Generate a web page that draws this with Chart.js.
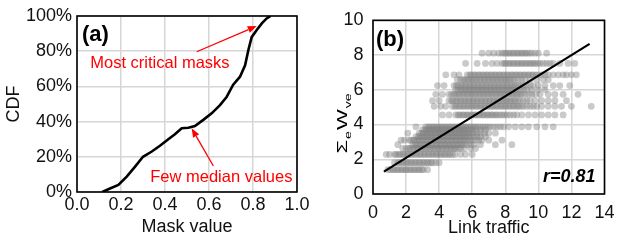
<!DOCTYPE html>
<html>
<head>
<meta charset="utf-8">
<script src="https://cdn.jsdelivr.net/npm/chart.js@4.4.1/dist/chart.umd.min.js"></script>
<style>
    body { margin: 0; background: #fff; }
    canvas { display: block; }
    #wrapA { position: absolute; left: 0; top: 0; }
    #wrapB { position: absolute; left: 312px; top: 0; }
</style>
</head>
<body>
<div id="wrapA"><canvas id="chartA" width="312" height="240"></canvas></div>
<div id="wrapB"><canvas id="chartB" width="311" height="240"></canvas></div>
<script>
// (a) CDF de mask value
var cdfX = [0.115, 0.15, 0.188, 0.226, 0.264, 0.30, 0.34, 0.377, 0.415, 0.445, 0.476, 0.506, 0.536,
    0.574, 0.612, 0.65, 0.68, 0.71, 0.741, 0.764, 0.779, 0.794, 0.817, 0.84, 0.862, 0.88];
var cdfY = [0, 2, 4, 8.7, 14.4, 20, 23, 26.3, 30, 32.8, 36.2, 36.5, 37.5,
    41, 44.7, 49.4, 54, 61, 65.5, 72, 80.7, 88, 92, 95.8, 98.6, 100];
var maskTicks = [0, 0.2, 0.4, 0.6, 0.8, 1.0];
var cdfTicks = [0, 20, 40, 60, 80, 100];

// anotaciones (unidades de datos)
var noteTexts = ['Most critical masks', 'Few median values'];
var noteAt = [[0.377, 70.4], [0.656, 5.9]];
var arrowFrom = [[0.544, 79.7], [0.62, 14.8]];
var arrowTo = [[0.817, 94.3], [0.521, 36.2]];

// (b) link traffic vs sum W: una fila por nivel
var bandY = [1.40, 1.80, 2.28, 2.62, 2.84, 3.10, 3.30, 3.50, 3.70, 3.87,
    4.55, 5.05, 5.37, 5.74, 6.00, 6.24, 6.58, 6.86, 7.52, 8.11];
var bandX = [
    [0.9, 1.05, 1.2, 1.3, 1.45, 1.55, 1.7, 1.8, 1.95, 2.05, 2.2, 2.3, 2.45, 2.55, 2.7, 2.8, 2.95, 3.05, 3.3],
    [1.3, 1.5, 1.6, 1.75, 1.85, 2.0, 2.1, 2.25, 2.35, 2.5, 2.6, 2.75, 2.85, 3.0, 3.1, 3.25, 3.35, 3.5, 3.6, 3.8, 4.0],
    [0.8, 1.0, 1.3, 1.4, 1.55, 1.65, 1.8, 1.9, 2.05, 2.15, 2.3, 2.4, 2.55, 2.65, 2.8, 2.9, 3.05, 3.15, 3.3, 3.4,
        3.55, 3.65, 3.8, 3.9, 4.05, 4.15, 4.3, 4.4, 4.55, 4.65, 4.8, 4.95, 5.3, 5.6, 6.0],
    [1.8, 2.0, 2.15, 2.25, 2.4, 2.5, 2.65, 2.75, 2.9, 3.0, 3.15, 3.25, 3.4, 3.5, 3.65, 3.75, 3.9, 4.0, 4.15, 4.25,
        4.4, 4.5, 4.65, 4.75, 4.9, 5.0, 5.15, 5.3, 5.5, 5.9, 6.2],
    [1.5, 2.4, 2.55, 2.65, 2.8, 2.9, 3.05, 3.15, 3.3, 3.4, 3.55, 3.65, 3.8, 3.9, 4.05, 4.15, 4.3, 4.4, 4.55, 4.65,
        4.8, 4.9, 5.05, 5.15, 5.3, 5.4, 5.55, 5.7, 5.9, 6.1, 6.5, 7.4, 8.4],
    [1.7, 1.9, 2.2, 2.3, 2.45, 2.55, 2.7, 2.8, 2.95, 3.05, 3.2, 3.3, 3.45, 3.55, 3.7, 3.8, 3.95, 4.05, 4.2, 4.3,
        4.45, 4.55, 4.7, 4.8, 4.95, 5.05, 5.2, 5.3, 5.45, 5.55, 5.7, 5.85, 6.0, 6.2, 6.4, 6.6, 7.0, 7.8],
    [2.6, 2.75, 2.85, 3.0, 3.1, 3.25, 3.35, 3.5, 3.6, 3.75, 3.85, 4.0, 4.1, 4.25, 4.35, 4.5, 4.6, 4.75, 4.85, 5.0,
        5.1, 5.25, 5.35, 5.5, 5.6, 5.75, 5.9, 6.1, 6.3, 6.5, 6.8],
    [2.1, 2.8, 2.95, 3.05, 3.2, 3.3, 3.45, 3.55, 3.7, 3.8, 3.95, 4.05, 4.2, 4.3, 4.45, 4.55, 4.7, 4.8, 4.95, 5.05,
        5.2, 5.3, 5.45, 5.55, 5.7, 5.8, 5.95, 6.1, 6.3, 6.5, 6.75, 7.0, 7.4],
    [3.0, 3.15, 3.25, 3.4, 3.5, 3.65, 3.75, 3.9, 4.0, 4.15, 4.25, 4.4, 4.5, 4.65, 4.75, 4.9, 5.0, 5.15, 5.25, 5.4,
        5.5, 5.65, 5.8, 6.0, 6.2, 6.5, 6.8],
    [2.6, 3.2, 3.35, 3.45, 3.6, 3.7, 3.85, 3.95, 4.1, 4.2, 4.35, 4.45, 4.6, 4.7, 4.85, 4.95, 5.1, 5.2, 5.35, 5.45,
        5.6, 5.7, 5.85, 5.95, 6.1, 6.2, 6.35, 6.5, 6.65, 6.8, 6.95, 7.1, 7.3, 7.5, 7.7, 7.9, 8.2, 8.6, 9.0, 9.4,
        9.9, 10.4, 10.9],
    [4.2, 4.6, 5.0, 5.15, 5.25, 5.4, 5.5, 5.65, 5.75, 5.9, 6.0, 6.15, 6.25, 6.4, 6.5, 6.65, 6.75, 6.9, 7.0, 7.15,
        7.25, 7.4, 7.5, 7.65, 7.8, 7.95, 8.1, 8.3, 8.5, 8.7, 9.0, 9.4, 9.8, 10.2, 10.6, 11.0, 11.5],
    [3.7, 4.1, 4.4, 4.8, 4.95, 5.05, 5.2, 5.3, 5.45, 5.55, 5.7, 5.8, 5.95, 6.05, 6.2, 6.3, 6.45, 6.55, 6.7, 6.8,
        6.95, 7.05, 7.2, 7.3, 7.45, 7.55, 7.7, 7.8, 7.95, 8.05, 8.2, 8.3, 8.45, 8.55, 8.7, 8.8, 8.95, 9.1, 9.3, 9.5,
        9.7, 9.9, 10.2, 10.6, 11.0, 11.4, 12.0, 13.2],
    [3.6, 4.0, 4.6, 4.75, 4.85, 5.0, 5.1, 5.25, 5.35, 5.5, 5.6, 5.75, 5.85, 6.0, 6.1, 6.25, 6.35, 6.5, 6.6, 6.75,
        6.85, 7.0, 7.1, 7.25, 7.35, 7.5, 7.6, 7.75, 7.85, 8.0, 8.1, 8.25, 8.35, 8.5, 8.6, 8.75, 8.9, 9.1, 9.3, 9.5,
        9.8, 10.2, 10.6, 11.0, 11.7],
    [3.8, 4.2, 4.6, 4.75, 4.9, 5.0, 5.15, 5.25, 5.4, 5.5, 5.65, 5.75, 5.9, 6.0, 6.15, 6.25, 6.4, 6.5, 6.65, 6.75,
        6.9, 7.0, 7.15, 7.25, 7.4, 7.5, 7.65, 7.75, 7.9, 8.0, 8.15, 8.25, 8.4, 8.5, 8.65, 8.75, 8.9, 9.0, 9.2, 9.4,
        9.6, 9.8, 10.1, 10.6, 11.0, 11.5, 12.4],
    [5.0, 5.15, 5.3, 5.4, 5.55, 5.65, 5.8, 5.9, 6.05, 6.15, 6.3, 6.4, 6.55, 6.65, 6.8, 6.9, 7.05, 7.15, 7.3, 7.4,
        7.55, 7.65, 7.8, 7.9, 8.05, 8.15, 8.3, 8.4, 8.55, 8.7, 8.9, 9.1, 9.3, 9.6, 10.0, 10.4],
    [3.9, 4.3, 4.9, 5.05, 5.15, 5.3, 5.4, 5.55, 5.65, 5.8, 5.9, 6.05, 6.15, 6.3, 6.4, 6.55, 6.65, 6.8, 6.9, 7.05,
        7.15, 7.3, 7.4, 7.55, 7.65, 7.8, 7.9, 8.05, 8.15, 8.3, 8.4, 8.55, 8.65, 8.8, 8.95, 9.1, 9.3, 9.5, 9.7, 10.0,
        10.4, 10.9, 11.3, 11.9],
    [5.1, 5.3, 5.45, 5.55, 5.7, 5.8, 5.95, 6.05, 6.2, 6.3, 6.45, 6.55, 6.7, 6.8, 6.95, 7.05, 7.2, 7.3, 7.45, 7.55,
        7.7, 7.8, 7.95, 8.05, 8.2, 8.3, 8.45, 8.6, 8.8, 9.0, 9.2, 9.5, 9.9, 10.3, 10.6],
    [4.4, 4.9, 5.2, 5.7, 5.85, 5.95, 6.1, 6.2, 6.35, 6.45, 6.6, 6.7, 6.85, 6.95, 7.1, 7.2, 7.35, 7.45, 7.6, 7.7,
        7.85, 7.95, 8.1, 8.2, 8.35, 8.45, 8.6, 8.7, 8.85, 8.95, 9.1, 9.2, 9.35, 9.45, 9.6, 9.7, 9.85, 10.0, 10.2, 10.4,
        10.6, 10.9, 11.2, 11.5, 11.7, 12.0, 12.3],
    [5.6, 6.3, 6.8, 7.2, 7.5, 7.8, 7.95, 8.05, 8.2, 8.3, 8.45, 8.55, 8.7, 8.8, 8.95, 9.05, 9.2, 9.3, 9.45, 9.55,
        9.7, 9.8, 9.95, 10.1, 10.3, 10.5, 10.7, 10.9, 11.3, 11.8, 12.2],
    [6.6, 7.0, 7.3, 7.6, 7.8, 7.95, 8.05, 8.2, 8.3, 8.45, 8.55, 8.7, 8.8, 8.95, 9.05, 9.2, 9.3, 9.45, 9.6, 9.8,
        10.0, 10.5]
];
// recta de ajuste
var fitX = [0.66, 13.1];
var fitY = [1.29, 8.64];
var rLabel = 'r=0.81';

var FONT = "'Liberation Sans', Arial, sans-serif";
var GRID = '#d6d6d6';

//marco negro alrededor del area
var frameBox = {
    id: 'frameBox',
    afterDraw: function (chart) {
        var a = chart.chartArea, ctx = chart.ctx;
        ctx.save();
        ctx.strokeStyle = '#000';
        ctx.lineWidth = 1.6;
        ctx.strokeRect(a.left, a.top, a.right - a.left, a.bottom - a.top);
        ctx.restore();
    }
};

function drawArrow(ctx, x1, y1, x2, y2) {
    var ang = Math.atan2(y2 - y1, x2 - x1), len = 9, half = 3.5;
    var bx = x2 - len * Math.cos(ang), by = y2 - len * Math.sin(ang);
    ctx.beginPath();
    ctx.moveTo(x1, y1);
    ctx.lineTo(bx, by);
    ctx.stroke();
    ctx.beginPath();
    ctx.moveTo(x2, y2);
    ctx.lineTo(bx + half * Math.sin(ang), by - half * Math.cos(ang));
    ctx.lineTo(bx - half * Math.sin(ang), by + half * Math.cos(ang));
    ctx.closePath();
    ctx.fill();
}

var notesA = {
    id: 'notesA',
    afterDraw: function (chart) {
        var ctx = chart.ctx, a = chart.chartArea;
        var sx = chart.scales.x, sy = chart.scales.y;
        ctx.save();
        ctx.fillStyle = '#000';
        ctx.font = 'bold 22px ' + FONT;
        ctx.textAlign = 'left';
        ctx.textBaseline = 'alphabetic';
        ctx.fillText('(a)', a.left + 5, a.top + 25);

        ctx.fillStyle = '#ff0000';
        ctx.strokeStyle = '#ff0000';
        ctx.lineWidth = 1.3;
        ctx.font = '16.5px ' + FONT;
        ctx.textAlign = 'center';
        noteTexts.forEach(function (t, i) {
            ctx.fillText(t, sx.getPixelForValue(noteAt[i][0]), sy.getPixelForValue(noteAt[i][1]));
            drawArrow(ctx,
                sx.getPixelForValue(arrowFrom[i][0]), sy.getPixelForValue(arrowFrom[i][1]),
                sx.getPixelForValue(arrowTo[i][0]), sy.getPixelForValue(arrowTo[i][1]));
        });
        ctx.restore();
    }
};

var notesB = {
    id: 'notesB',
    afterDraw: function (chart) {
        var ctx = chart.ctx, a = chart.chartArea;
        ctx.save();
        ctx.fillStyle = '#000';
        ctx.font = 'bold 22px ' + FONT;
        ctx.textAlign = 'left';
        ctx.textBaseline = 'alphabetic';
        ctx.fillText('(b)', a.left + 3, a.top + 26);

        ctx.font = 'italic bold 18px ' + FONT;
        ctx.textAlign = 'right';
        ctx.fillText(rLabel, a.right - 9, a.bottom - 12.5);

        // titulo eje Y con subindices: Σ_e W_ve
        ctx.translate(a.left - 26, a.bottom - 40.5);
        ctx.rotate(-Math.PI / 2);
        ctx.scale(1, 0.7);
        ctx.textAlign = 'left';
        var parts = [['Σ', 22, 0], ['e', 14, 6], ['W', 22, 0], ['ve', 14, 6]];
        var x = 0;
        parts.forEach(function (p) {
            ctx.font = p[1] + 'px ' + FONT;
            ctx.fillText(p[0], x, p[2]);
            x += ctx.measureText(p[0]).width + 1;
        });
        ctx.restore();
    }
};

function renderCdfChart() {
    var pts = cdfX.map(function (x, i) { return { x: x, y: cdfY[i] }; });
    new Chart(document.getElementById('chartA').getContext('2d'), {
        type: 'scatter',
        data: {
            datasets: [{
                data: pts,
                showLine: true,
                borderColor: '#000',
                borderWidth: 2.6,
                pointRadius: 0,
                tension: 0
            }]
        },
        options: {
            responsive: false,
            animation: false,
            devicePixelRatio: 1,
            events: [],
            layout: { padding: { top: 16, right: 15, left: 0, bottom: 0 } },
            plugins: { legend: { display: false }, tooltip: { enabled: false } },
            scales: {
                x: {
                    type: 'linear', min: 0, max: 1,
                    afterFit: function (s) { s.height = 48; },
                    afterBuildTicks: function (s) { s.ticks = maskTicks.map(function (v) { return { value: v }; }); },
                    grid: { color: GRID, lineWidth: 1.5, drawTicks: false },
                    border: { display: false },
                    ticks: {
                        padding: 2, color: '#111', font: { family: FONT, size: 18 },
                        callback: function (v) { return Number(v).toFixed(1); }
                    },
                    title: { display: true, text: 'Mask value', color: '#111', padding: { top: 0, bottom: 2.5 }, font: { family: FONT, size: 18 } }
                },
                y: {
                    min: 0, max: 100,
                    afterFit: function (s) { s.width = 77; },
                    afterBuildTicks: function (s) { s.ticks = cdfTicks.map(function (v) { return { value: v }; }); },
                    grid: { color: GRID, lineWidth: 1.5, drawTicks: false },
                    border: { display: false },
                    ticks: {
                        padding: 5, color: '#111', font: { family: FONT, size: 18 },
                        callback: function (v) { return v + '%'; }
                    },
                    title: { display: true, text: 'CDF', color: '#111', padding: { top: 3, bottom: 0 }, font: { family: FONT, size: 18 } }
                }
            }
        },
        plugins: [frameBox, notesA]
    });
}

function renderTrafficChart() {
    var pts = [];
    bandY.forEach(function (y, i) {
        bandX[i].forEach(function (x) { pts.push({ x: x, y: y }); });
    });
    var fit = fitX.map(function (x, i) { return { x: x, y: fitY[i] }; });
    new Chart(document.getElementById('chartB').getContext('2d'), {
        type: 'scatter',
        data: {
            datasets: [{
                data: fit,
                showLine: true,
                borderColor: '#000',
                borderWidth: 2.2,
                pointRadius: 0,
                order: 0
            }, {
                data: pts,
                backgroundColor: 'rgba(128,128,128,0.42)',
                borderWidth: 0,
                pointRadius: 3.4,
                order: 1
            }]
        },
        options: {
            responsive: false,
            animation: false,
            devicePixelRatio: 1,
            events: [],
            layout: { padding: { top: 16, right: 11, left: 0, bottom: 0 } },
            plugins: { legend: { display: false }, tooltip: { enabled: false } },
            scales: {
                x: {
                    type: 'linear', min: 0, max: 14,
                    afterFit: function (s) { s.height = 46; },
                    grid: { color: GRID, lineWidth: 1.5, drawTicks: false },
                    border: { display: false },
                    ticks: { stepSize: 2, padding: 8.5, color: '#111', font: { family: FONT, size: 18 } },
                    title: { display: true, text: 'Link traffic', color: '#111', padding: { top: 0, bottom: 1 }, font: { family: FONT, size: 18 } }
                },
                y: {
                    min: 0, max: 10,
                    afterFit: function (s) { s.width = 61; },
                    grid: { color: GRID, lineWidth: 1.5, drawTicks: false },
                    border: { display: false },
                    ticks: { stepSize: 2, padding: 9.5, color: '#111', font: { family: FONT, size: 18 } }
                }
            }
        },
        plugins: [frameBox, notesB]
    });
}

renderCdfChart();
renderTrafficChart();
</script>
</body>
</html>
